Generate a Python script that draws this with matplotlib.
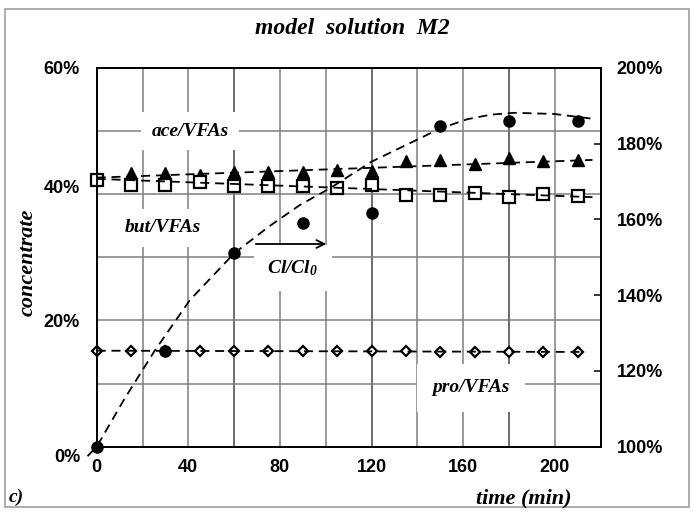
import matplotlib
matplotlib.use('Agg')
import matplotlib.pyplot as plt
from matplotlib.patches import Rectangle
import matplotlib.transforms as mtrans

plt.rcParams['mathtext.fontset'] = 'custom'
plt.rcParams['mathtext.rm'] = 'Liberation Serif:bold:italic'
plt.rcParams['mathtext.it'] = 'Liberation Serif:bold:italic'
plt.rcParams['mathtext.bf'] = 'Liberation Serif:bold:italic'

# ---------------- data ----------------
time_ace = [15, 30, 45, 60, 75, 90, 105, 120, 135, 150, 165, 180, 195, 210]
ace_vfa = [43.3, 43.3, 43.0, 43.5, 43.5, 43.5, 43.8, 43.6, 45.2, 45.4, 44.8, 45.7, 45.2, 45.4]

time_all = [0, 15, 30, 45, 60, 75, 90, 105, 120, 135, 150, 165, 180, 195, 210]
but_vfa = [42.2, 41.4, 41.5, 41.9, 41.3, 41.3, 41.2, 41.0, 41.4, 39.8, 39.8, 40.1, 39.6, 40.0, 39.7]
pro_vfa = [15.2, 15.2, 15.2, 15.2, 15.2, 15.1, 15.1, 15.1, 15.1, 15.1, 15.0, 15.0, 15.0, 15.0, 15.0]

time_cl = [0, 30, 60, 90, 120, 150, 180, 210]
cl_ratio = [100.0, 125.3, 151.0, 158.9, 161.7, 184.6, 185.9, 186.0]

# trend lines
cl_trend_t = [-4, 0, 12, 25.3, 40.7, 60, 75, 88.8, 101.9, 120, 139.9, 149.8, 161.8, 172, 182.2, 199.7, 215.7]
cl_trend = [97.5, 100.0, 112.5, 125.3, 138.7, 151.0, 158.0, 163.8, 168.2, 175.2, 181.0, 183.9, 186.4, 187.6, 188.1, 187.8, 186.6]
ace_trend_t = [0, 216.5]
ace_trend = [42.6, 45.4]
but_trend_t = [0, 216.5]
but_trend = [42.4, 39.5]
pro_trend_t = [0, 212]
pro_trend = [15.2, 15.0]

x_ticks = [0, 40, 80, 120, 160, 200]
left_ticks = [0, 20, 40, 60]
right_ticks = [100, 120, 140, 160, 180, 200]

# ---------------- figure ----------------
W, H = 694, 512
fig = plt.figure(figsize=(W / 100, H / 100), dpi=100)
fig.patch.set_facecolor('white')
fig.add_artist(Rectangle((5 / W, 1 - 507 / H), 684 / W, 498 / H, transform=fig.transFigure,
                         fill=False, edgecolor='#a0a0a0', linewidth=1.2))

L, R, T, B = 96.7, 600.5, 67.7, 446.7
ax = fig.add_axes([L / W, 1 - B / H, (R - L) / W, (B - T) / H])
ax2 = ax.twinx()

ax.set_xlim(0, 220)
ax.set_ylim(0, 60)
ax2.set_ylim(100, 200)

ax.set_xticks(x_ticks)
ax.set_xticklabels([str(v) for v in x_ticks])
ax.set_yticks(left_ticks)
ax.set_yticklabels([f'{v}%' for v in left_ticks])
ax2.set_yticks(right_ticks)
ax2.set_yticklabels([f'{v}%' for v in right_ticks])

# grid (every 20 min, every 10 %)
ax.set_xticks(list(range(0, 221, 20)), minor=True)
ax.set_yticks(list(range(0, 61, 10)), minor=True)
ax.grid(which='both', color='#7f7f7f', linewidth=1.1, zorder=0)
for xv in [60, 120, 180]:
    ax.axvline(xv, color='black', linewidth=1.1, zorder=0.5)
ax.set_axisbelow(True)

tick_font = dict(family='Liberation Sans', weight='bold', size=13)
for lab in ax.get_xticklabels() + ax.get_yticklabels() + ax2.get_yticklabels():
    lab.set_fontproperties(matplotlib.font_manager.FontProperties(**tick_font))

ax.tick_params(axis='x', which='both', length=0, pad=9)
ax.tick_params(axis='y', which='both', length=0, pad=12)
ax2.tick_params(axis='y', which='major', direction='in', length=5, width=1.1, pad=11.5)
ax2.tick_params(axis='y', which='minor', length=0)

for sp in ['left', 'bottom', 'right', 'top']:
    ax.spines[sp].set_linewidth(1.3)
    ax2.spines[sp].set_linewidth(1.3)

# quirky left label placement (as in the reference)
offsets = {40: 8, 0: -9}
for lab, v in zip(ax.get_yticklabels(), left_ticks):
    if v in offsets:
        lab.set_transform(lab.get_transform() + mtrans.ScaledTranslation(0, offsets[v] / 100, fig.dpi_scale_trans))

dash = (0, (5, 3.2))
ax.plot(time_all, pro_vfa, linestyle='none', marker='D', markersize=5.2, markerfacecolor='white',
        markeredgecolor='black', markeredgewidth=1.6, zorder=3, clip_on=False)
ax.plot(time_ace, ace_vfa, linestyle='none', marker='^', markersize=8.5, markerfacecolor='black',
        markeredgecolor='black', zorder=3, clip_on=False)
ax.plot(time_all, but_vfa, linestyle='none', marker='s', markersize=8, markerfacecolor='white',
        markeredgecolor='black', markeredgewidth=1.6, zorder=4, clip_on=False)

ax.plot(ace_trend_t, ace_trend, color='black', linestyle=dash, linewidth=1.3, zorder=5)
ax.plot(but_trend_t, but_trend, color='black', linestyle=dash, linewidth=1.3, zorder=5)
ax.plot(pro_trend_t, pro_trend, color='black', linestyle=dash, linewidth=1.3, zorder=5)

ax2.plot(time_cl, cl_ratio, linestyle='none', marker='o', markersize=8, markerfacecolor='black',
         markeredgecolor='black', zorder=4, clip_on=False)
ax2.plot(cl_trend_t, cl_trend, color='black', linestyle=dash, linewidth=1.3, zorder=5, clip_on=False)

# annotations
ann_font = dict(family='Liberation Serif', weight='bold', style='italic', size=14)
box = dict(boxstyle='square,pad=0.55', facecolor='white', edgecolor='none')

def px(x, y):
    return (x / W, 1 - y / H)

fig.text(*px(190, 131), 'ace/VFAs', ha='center', va='center', bbox=box, zorder=6, **ann_font)
fig.text(*px(163, 228), 'but/VFAs', ha='center', va='center', bbox=box, zorder=6, **ann_font)
fig.text(*px(293, 268), r'Cl/Cl$_0$', ha='center', va='center',
         bbox=dict(boxstyle='square,pad=0.7', facecolor='white', edgecolor='none'), zorder=6, **ann_font)
fig.text(*px(471, 388), 'pro/VFAs', ha='center', va='center',
         bbox=dict(boxstyle='square,pad=0.8', facecolor='white', edgecolor='none'), zorder=6, **ann_font)
fig.add_artist(matplotlib.patches.FancyArrowPatch(px(253, 244), px(329, 244), transform=fig.transFigure,
                                                  arrowstyle='->', mutation_scale=14, color='black',
                                                  linewidth=1.3, zorder=7))

# titles / labels
fig.text(*px(352, 28), 'model  solution  M2', ha='center', va='center',
         family='Liberation Serif', weight='bold', style='italic', size=17)
fig.text(*px(28, 262), 'concentrate', ha='center', va='center', rotation=90,
         family='Liberation Serif', weight='bold', style='italic', size=16)
fig.text(*px(524, 498), 'time (min)', ha='center', va='center',
         family='Liberation Serif', weight='bold', style='italic', size=16)
fig.text(*px(16, 497), 'c)', ha='center', va='center',
         family='Liberation Serif', weight='bold', style='italic', size=14)

fig.savefig('out.png', dpi=100, facecolor='white')
